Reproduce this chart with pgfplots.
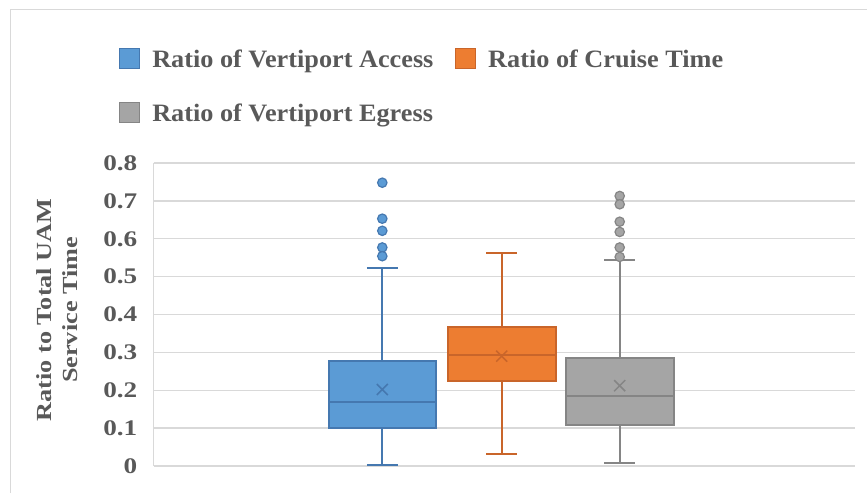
\documentclass[border=0pt]{standalone}
\usepackage{pgfplots}
\pgfplotsset{compat=1.18}
\usepackage{fontspec}
\setmainfont{Liberation Serif}[FakeStretch=1.22]
\newfontfamily\legfont{Liberation Serif}[FakeStretch=1.05]
\definecolor{blueF}{HTML}{5B9BD5}
\definecolor{blueD}{HTML}{4578B0}
\definecolor{orangeF}{HTML}{ED7D31}
\definecolor{orangeD}{HTML}{C9652A}
\definecolor{grayF}{HTML}{A5A5A5}
\definecolor{grayD}{HTML}{858585}
\definecolor{txt}{HTML}{595959}
\definecolor{gridc}{HTML}{D9D9D9}
\begin{document}
\begin{tikzpicture}
\useasboundingbox (0pt,0pt) rectangle (867pt,493pt);
\draw[gridc, line width=1.3pt] (10.5pt,0pt) -- (10.5pt,483.5pt) -- (867pt,483.5pt);
\begin{axis}[
  at={(153.5pt,27pt)}, anchor=south west,
  scale only axis, width=701.5pt, height=303pt,
  xmin=1.535, xmax=8.55, ymin=0, ymax=0.8,
  xtick={1.535}, xticklabels={},
  ytick={0,0.1,0.2,0.3,0.4,0.5,0.6,0.7,0.8},
  axis line style={draw=none},
  major tick length=0pt,
  xmajorgrids, ymajorgrids, grid style={gridc, line width=1.3pt},
  unbounded coords=jump,
  /pgf/number format/assume math mode=true,
  /pgf/number format/fixed,
  yticklabel style={font=\fontsize{22.3}{26}\selectfont\bfseries, text=txt, inner sep=0pt, xshift=-16pt},
  ylabel={Ratio to Total UAM\\Service Time},
  ylabel style={font=\fontsize{21.5}{26}\selectfont\bfseries, text=txt, align=center, at={(rel axis cs:-0.137,0.515)}, anchor=center},
  legend style={at={(rel axis cs:-0.0492,1.3815)}, anchor=north west, draw=none, fill=none, inner sep=0pt,
    font=\legfont\fontsize{25}{30}\selectfont\bfseries, text=txt, legend columns=2,
    nodes={inner sep=0pt},
    /tikz/every even column/.append style={column sep=21.7pt},
    /tikz/every odd column/.append style={column sep=12pt},
    row sep=33pt},
  legend cell align=left,
]
\addlegendimage{legend image code/.code={\draw[fill=blueF, draw=blueD, line width=1.1pt] (0pt,-9pt) rectangle (20pt,11pt);}}
\addlegendentry{Ratio of Vertiport Access}
\addlegendimage{legend image code/.code={\draw[fill=orangeF, draw=orangeD, line width=1.1pt] (0pt,-9pt) rectangle (20pt,11pt);}}
\addlegendentry{Ratio of Cruise Time}
\addlegendimage{legend image code/.code={\draw[fill=grayF, draw=grayD, line width=1.1pt] (0pt,-9pt) rectangle (20pt,11pt);}}
\addlegendentry{Ratio of Vertiport Egress}

% ---- Vertiport Access ----
\addplot[blueD, line width=2pt, forget plot] coordinates {(3.823,0.0995) (3.823,0.0035) (nan,nan) (3.668,0.0035) (3.978,0.0035) (nan,nan) (3.823,0.277) (3.823,0.522) (nan,nan) (3.668,0.522) (3.978,0.522)};
\addplot[fill=blueF, draw=blueD, line width=2pt, forget plot] coordinates {(3.288,0.0995) (4.358,0.0995) (4.358,0.277) (3.288,0.277)} -- cycle;
\addplot[blueD, line width=2pt, forget plot] coordinates {(3.288,0.168) (4.358,0.168)};
\addplot[only marks, mark=x, mark size=7.8pt, blueD, line width=1.5pt, forget plot] coordinates {(3.823,0.202)};
\addplot[only marks, mark=*, mark size=4.7pt, mark options={fill=blueF, draw=blueD, line width=1.2pt}, forget plot] coordinates {(3.823,0.748) (3.823,0.653) (3.823,0.621) (3.823,0.577) (3.823,0.554)};

% ---- Cruise Time ----
\addplot[orangeD, line width=2pt, forget plot] coordinates {(5.017,0.225) (5.017,0.031) (nan,nan) (4.862,0.031) (5.172,0.031) (nan,nan) (5.017,0.368) (5.017,0.563) (nan,nan) (4.862,0.563) (5.172,0.563)};
\addplot[fill=orangeF, draw=orangeD, line width=2pt, forget plot] coordinates {(4.477,0.225) (5.557,0.225) (5.557,0.368) (4.477,0.368)} -- cycle;
\addplot[orangeD, line width=2pt, forget plot] coordinates {(4.477,0.294) (5.557,0.294)};
\addplot[only marks, mark=x, mark size=7.8pt, orangeD, line width=1.5pt, forget plot] coordinates {(5.017,0.290)};

% ---- Vertiport Egress ----
\addplot[grayD, line width=2pt, forget plot] coordinates {(6.197,0.108) (6.197,0.007) (nan,nan) (6.042,0.007) (6.352,0.007) (nan,nan) (6.197,0.284) (6.197,0.545) (nan,nan) (6.042,0.545) (6.352,0.545)};
\addplot[fill=grayF, draw=grayD, line width=2pt, forget plot] coordinates {(5.657,0.108) (6.737,0.108) (6.737,0.284) (5.657,0.284)} -- cycle;
\addplot[grayD, line width=2pt, forget plot] coordinates {(5.657,0.185) (6.737,0.185)};
\addplot[only marks, mark=x, mark size=7.8pt, grayD, line width=1.5pt, forget plot] coordinates {(6.197,0.212)};
\addplot[only marks, mark=*, mark size=4.7pt, mark options={fill=grayF, draw=grayD, line width=1.2pt}, forget plot] coordinates {(6.197,0.713) (6.197,0.691) (6.197,0.645) (6.197,0.618) (6.197,0.577) (6.197,0.552)};
\end{axis}
\end{tikzpicture}
\end{document}
